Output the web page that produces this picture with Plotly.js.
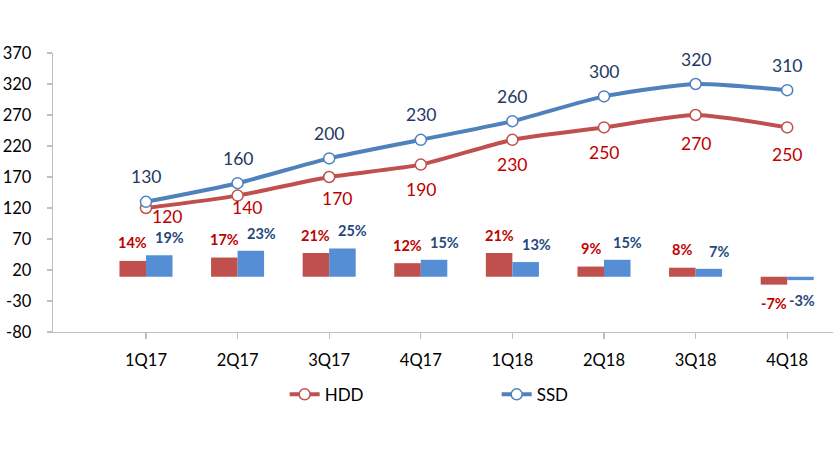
<!DOCTYPE html>
<html>
<head>
<meta charset="utf-8">
<script src="https://cdn.plot.ly/plotly-3.0.1.min.js"></script>
<style>html,body{margin:0;padding:0;background:#fff}#chart{width:840px;height:450px}</style>
</head>
<body>
<div id="chart"></div>
<script>
const categories = ['1Q17','2Q17','3Q17','4Q17','1Q18','2Q18','3Q18','4Q18'];
const hddPrice = [120,140,170,190,230,250,270,250];
const ssdPrice = [130,160,200,230,260,300,320,310];
const hddGrowth = [14,17,21,12,21,9,8,-7];
const ssdGrowth = [19,23,25,15,13,15,7,-3];
const yTicks = [-80,-30,20,70,120,170,220,270,320,370];

// label nudges (style only)
const hddLabelDrop = [8,12,21,25,25,25,28,27];
const hddLabelShiftX = [21,9,8,0,0,0,0,0];

const RED = '#C0504D', BLUE = '#4F81BD', BARBLUE = '#558ED5';
const REDTXT = '#C00000', BLUETXT = '#1F3864', BARBLUETXT = '#1F497D';
const FONT = 'Lato, "Open Sans", sans-serif';

const traces = [
  {type:'bar', x:categories, y:hddGrowth, yaxis:'y2', marker:{color:RED}, showlegend:false, hoverinfo:'skip'},
  {type:'bar', x:categories, y:ssdGrowth, yaxis:'y2', marker:{color:BARBLUE}, showlegend:false, hoverinfo:'skip'},
  {type:'scatter', mode:'lines+markers', name:'HDD', x:categories, y:hddPrice,
   line:{color:RED, width:4, shape:'spline', smoothing:0.6},
   marker:{symbol:'circle', size:11, color:'#fff', line:{color:RED, width:1.5}}},
  {type:'scatter', mode:'lines+markers', name:'SSD', x:categories, y:ssdPrice,
   line:{color:BLUE, width:4, shape:'spline', smoothing:0.6},
   marker:{symbol:'circle', size:11, color:'#fff', line:{color:BLUE, width:1.5}}}
];

const annotations = [];
categories.forEach((c,i)=>{
  annotations.push({x:c, y:ssdPrice[i], xref:'x', yref:'y', text:String(ssdPrice[i]), showarrow:false,
    yshift:25, font:{family:FONT, size:17.5, color:BLUETXT}});
  annotations.push({x:c, y:hddPrice[i], xref:'x', yref:'y', text:String(hddPrice[i]), showarrow:false,
    yshift:-hddLabelDrop[i], xshift:hddLabelShiftX[i], font:{family:FONT, size:17.5, color:REDTXT}});
  const hp = hddGrowth[i] >= 0;
  annotations.push({x:c, y:hddGrowth[i], xref:'x', yref:'y2', text:hddGrowth[i]+'%', showarrow:false,
    xshift:-13.25, yshift: hp ? 18 : -19, font:{family:FONT, size:14.5, color:REDTXT, weight:'bold'}});
  const sp = ssdGrowth[i] >= 0;
  annotations.push({x:c, y:ssdGrowth[i], xref:'x', yref:'y2', text:ssdGrowth[i]+'%', showarrow:false,
    xshift: sp ? 23.75 : 14.5, yshift: sp ? 17.5 : -20.5, font:{family:FONT, size:14.5, color:BARBLUETXT, weight:'bold'}});
});

const layout = {
  width:840, height:450,
  margin:{l:53, r:7, t:53, b:118},
  paper_bgcolor:'#fff', plot_bgcolor:'#fff',
  font:{family:FONT, size:16, color:'#000'},
  barmode:'group', bargap:0.421, bargroupgap:0,
  xaxis:{type:'category', range:[-1.015, 7.5], showgrid:false, zeroline:false,
    showline:true, linecolor:'#BFBFBF', linewidth:1.3,
    ticks:'outside', ticklen:6, tickcolor:'#BFBFBF', tickwidth:1.3,
    tickfont:{family:FONT, size:16.5, color:'#000'}, ticklabelstandoff:7, fixedrange:true},
  yaxis:{range:[-80,370], tickvals:yTicks, ticktext:yTicks.map(String), showgrid:false, zeroline:false,
    showline:true, linecolor:'#BFBFBF', linewidth:1.3,
    ticks:'outside', ticklen:5, tickcolor:'#BFBFBF', tickwidth:1.3,
    tickfont:{family:FONT, size:16.5, color:'#000'}, ticklabelstandoff:12, fixedrange:true},
  yaxis2:{overlaying:'y', range:[-48.9,198], visible:false, showgrid:false, zeroline:false, fixedrange:true},
  showlegend:true,
  legend:{orientation:'h', x:0.297, xanchor:'left', y:-0.225, yanchor:'middle',
    entrywidth:167, entrywidthmode:'pixels', font:{family:FONT, size:17, color:'#000'},
    bgcolor:'rgba(0,0,0,0)'},
  annotations:annotations
};

Plotly.newPlot('chart', traces, layout, {displayModeBar:false, staticPlot:true});
</script>
</body>
</html>
